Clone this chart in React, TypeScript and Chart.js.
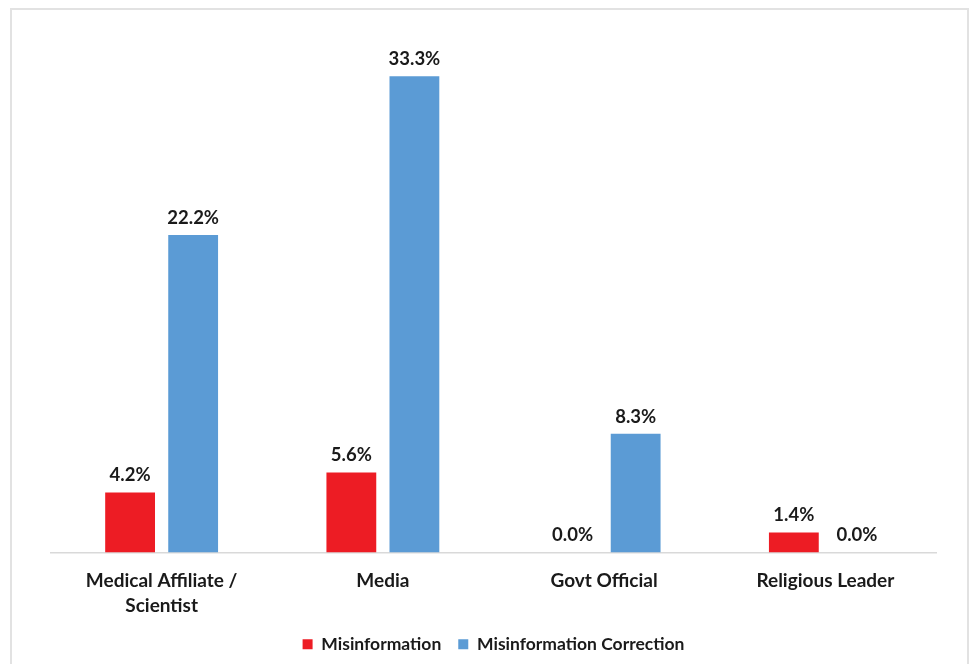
import React, { useEffect, useRef } from "react";
import { Chart, registerables } from "chart.js";

Chart.register(...registerables);

const categories: (string | string[])[] = [
  ["Medical Affiliate /", "Scientist"],
  "Media",
  "Govt Official",
  "Religious Leader",
];
const misinformation = [4.2, 5.6, 0.0, 1.4];
const misinformationCorrection = [22.2, 33.3, 8.3, 0.0];
const seriesNames = ["Misinformation", "Misinformation Correction"];

const FONT = "Lato, 'Open Sans', sans-serif";

const valueLabels = {
  id: "valueLabels",
  afterDatasetsDraw(chart: any) {
    const ctx = chart.ctx;
    ctx.save();
    ctx.font = `bold 18.5px ${FONT}`;
    ctx.fillStyle = "#1a1a1a";
    ctx.textAlign = "center";
    ctx.textBaseline = "bottom";
    chart.data.datasets.forEach((ds: any, i: number) => {
      const meta = chart.getDatasetMeta(i);
      meta.data.forEach((el: any, j: number) => {
        const v = ds.data[j];
        ctx.fillText(v.toFixed(1) + "%", el.x, el.y - 8);
      });
    });
    ctx.restore();
  },
};

const frame = {
  id: "frame",
  beforeDraw(chart: any) {
    const ctx = chart.ctx;
    ctx.save();
    ctx.fillStyle = "#ffffff";
    ctx.fillRect(0, 0, chart.width, chart.height);
    ctx.strokeStyle = "#e2e2e2";
    ctx.lineWidth = 2;
    ctx.strokeRect(11, 9, chart.width - 12, chart.height + 10);
    ctx.restore();
  },
};

export default function App() {
  const ref = useRef<HTMLCanvasElement>(null);
  useEffect(() => {
    if (!ref.current) return;
    const chart = new Chart(ref.current, {
      type: "bar",
      data: {
        labels: categories,
        datasets: [
          {
            label: seriesNames[0],
            data: misinformation,
            backgroundColor: "#ed1c24",
            categoryPercentage: 0.57,
            barPercentage: 0.79,
          },
          {
            label: seriesNames[1],
            data: misinformationCorrection,
            backgroundColor: "#5b9bd5",
            categoryPercentage: 0.57,
            barPercentage: 0.79,
          },
        ],
      },
      options: {
        responsive: false,
        animation: false,
        layout: { padding: { left: 51, right: 33, top: 52, bottom: 1 } },
        scales: {
          y: { display: false, min: 0, max: 35 },
          x: {
            grid: { display: false, drawTicks: false },
            border: { display: true, color: "#d9d9d9", width: 1.5 },
            ticks: {
              color: "#1a1a1a",
              font: { family: FONT, size: 19, weight: "bold", lineHeight: 1.3 },
              padding: 16,
              maxRotation: 0,
              autoSkip: false,
            },
            afterFit(scale: any) {
              scale.height = 66;
            },
          },
        },
        plugins: {
          legend: {
            position: "bottom",
            labels: {
              boxWidth: 10,
              boxHeight: 10,
              color: "#1a1a1a",
              font: { family: FONT, size: 17.5, weight: "bold" },
              padding: 17,
            },
          },
          tooltip: { enabled: false },
        },
      },
      plugins: [frame, valueLabels],
    });
    return () => chart.destroy();
  }, []);
  return (
    <div style={{ position: "fixed", left: 0, top: 0, width: 969, height: 664, background: "#fff" }}>
      <canvas ref={ref} width={969} height={664} style={{ display: "block" }} />
    </div>
  );
}
